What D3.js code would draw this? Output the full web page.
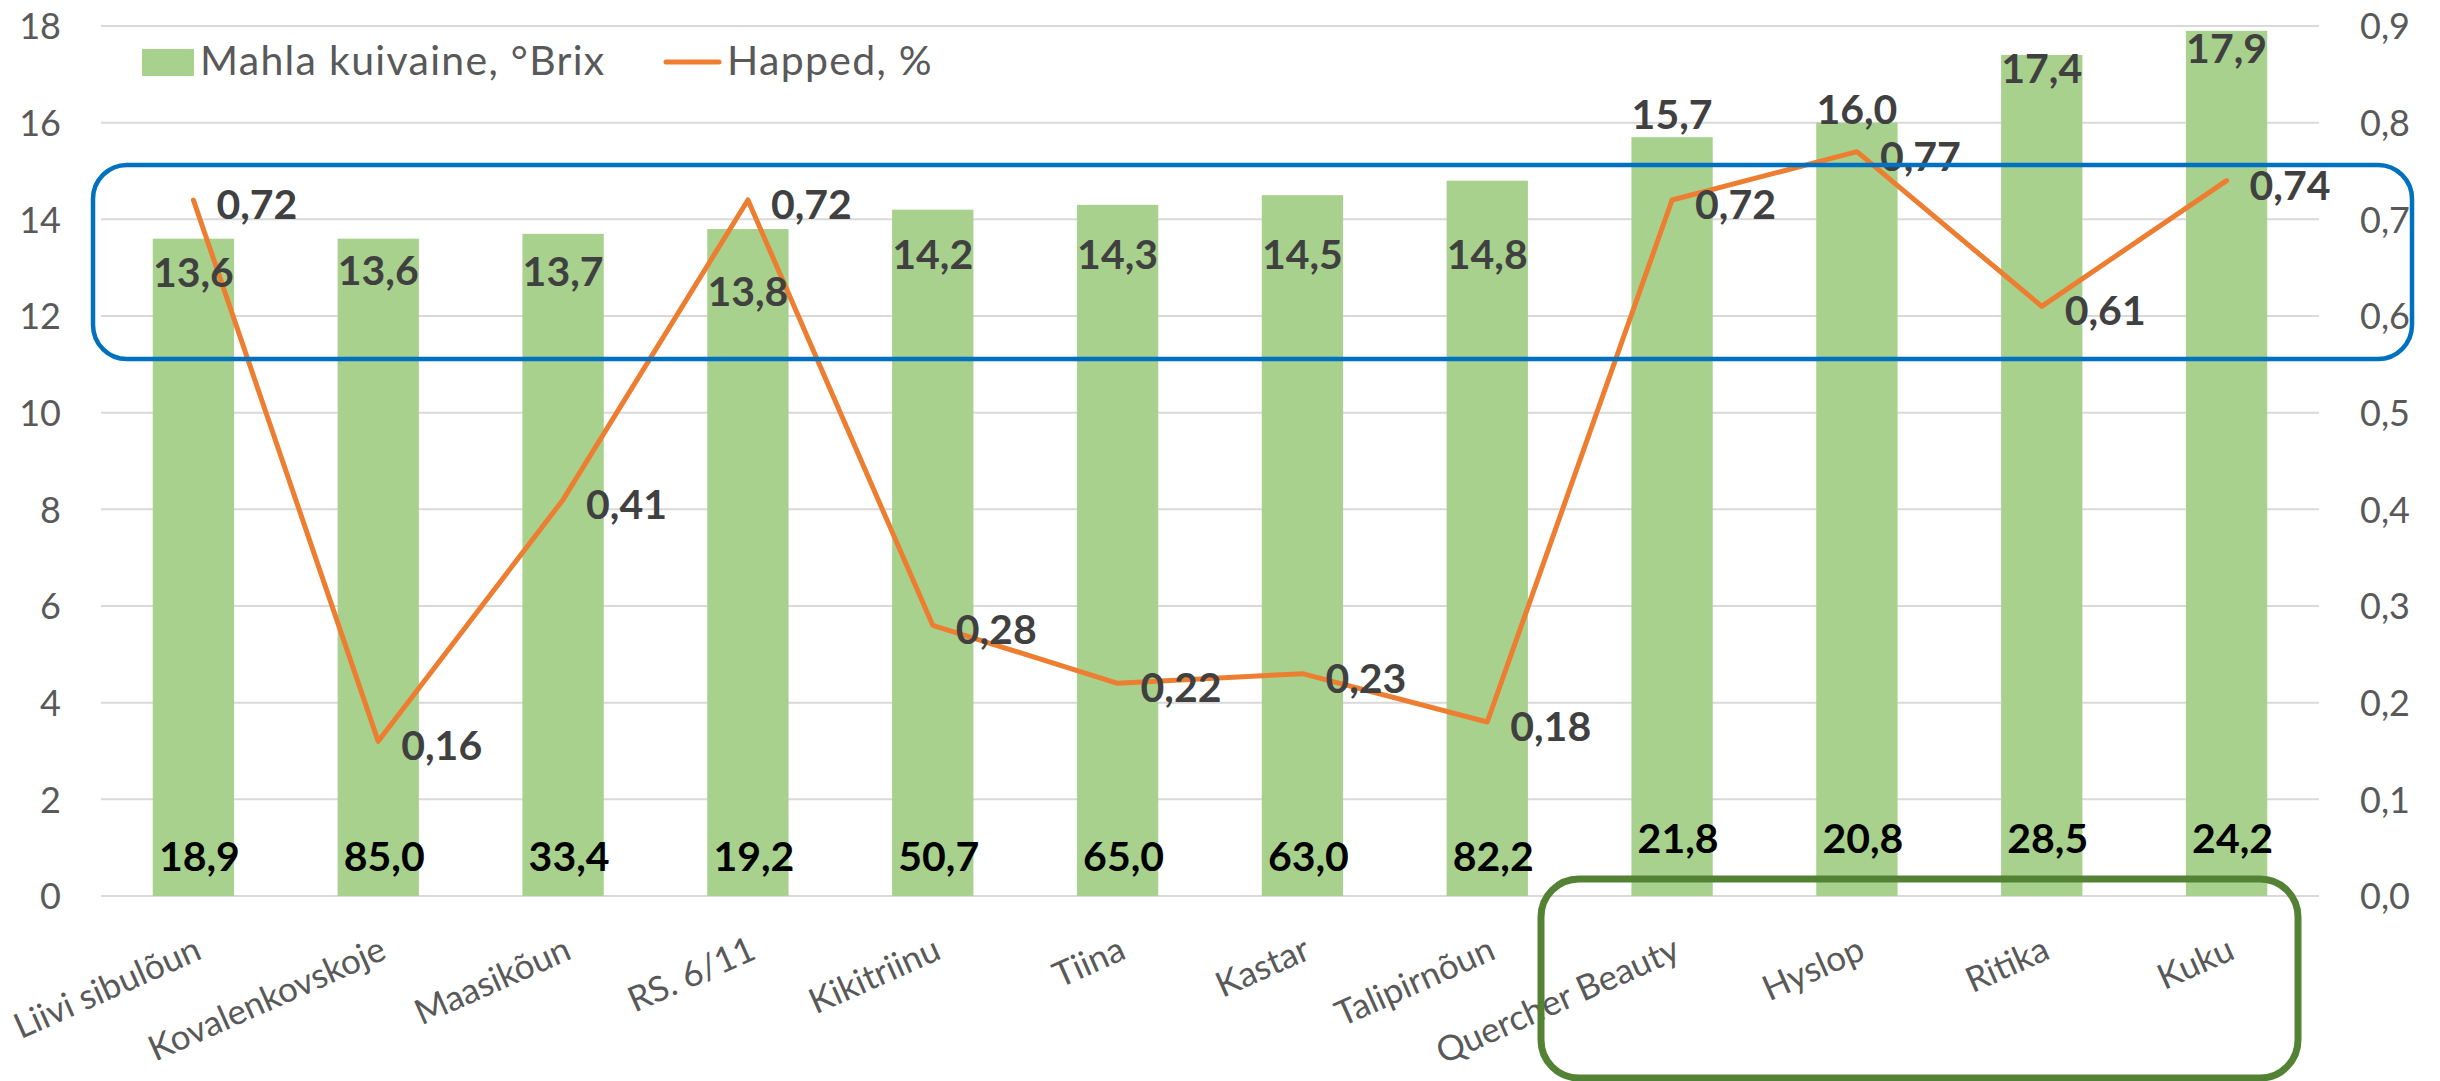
<!DOCTYPE html>
<html><head><meta charset="utf-8">
<script src="https://cdn.jsdelivr.net/npm/d3@7"></script>
<style>
html,body{margin:0;padding:0;background:#fff;}
svg{display:block;font-family:Lato,"Open Sans",sans-serif;}
</style></head>
<body>
<svg id="chart" width="2440" height="1081"></svg>
<script>
// ---- data ----
const categories = ["Liivi sibulõun","Kovalenkovskoje","Maasikõun","RS. 6/11","Kikitriinu","Tiina","Kastar","Talipirnõun","Quercher Beauty","Hyslop","Ritika","Kuku"];
const brix = [13.6,13.6,13.7,13.8,14.2,14.3,14.5,14.8,15.7,16.0,17.4,17.9];
const happed = [0.72,0.16,0.41,0.72,0.28,0.22,0.23,0.18,0.72,0.77,0.61,0.74];
const extraLabels = [18.9,85.0,33.4,19.2,50.7,65.0,63.0,82.2,21.8,20.8,28.5,24.2];
const leftTicks = [0,2,4,6,8,10,12,14,16,18];
const rightTicks = [0,0.1,0.2,0.3,0.4,0.5,0.6,0.7,0.8,0.9];
const seriesNames = ["Mahla kuivaine, °Brix","Happed, %"];

// ---- label placement tweaks (layout, px) ----
const brixLabelOffset = [33,31,37,62,44,49,59,73,-23,-14,13,17];
const extraLabelLift = [0,0,0,0,0,0,0,0,18,18,18,18];

const plot = {left:101, right:2319, top:26, bottom:896};
const C = {bar:"#A9D18E", line:"#ED7D31", grid:"#D9D9D9", axis:"#595959", lab:"#404040", blue:"#0070C0", green:"#548235"};

const loc = d3.formatLocale({decimal:",", thousands:" ", grouping:[3], currency:["","€"]});
const f1 = loc.format(".1f"), f2 = loc.format(".2f");

const svg = d3.select("#chart");

const x = d3.scaleBand().domain(categories).range([plot.left, plot.right]).paddingInner(0.56).paddingOuter(0.28);
const yL = d3.scaleLinear().domain([0,18]).range([plot.bottom, plot.top]);
const yR = d3.scaleLinear().domain([0,0.9]).range([plot.bottom, plot.top]);
const cx = c => x(c) + x.bandwidth()/2;

// gridlines
svg.append("g").selectAll("line").data(leftTicks).join("line")
  .attr("x1", plot.left).attr("x2", plot.right)
  .attr("y1", d => yL(d)).attr("y2", d => yL(d))
  .attr("stroke", C.grid).attr("stroke-width", 2);

// left axis
const gl = svg.append("g").attr("transform", `translate(${plot.left},0)`)
  .call(d3.axisLeft(yL).tickValues(leftTicks).tickSize(0).tickPadding(40).tickFormat(d3.format("d")));
gl.select(".domain").remove();
gl.selectAll("text").attr("font-size", 36).attr("font-family", "Lato").attr("fill", C.axis).attr("dy", "0.36em");

// right axis
const gr = svg.append("g").attr("transform", `translate(${plot.right},0)`)
  .call(d3.axisRight(yR).tickValues(rightTicks).tickSize(0).tickPadding(41).tickFormat(loc.format(".1f")));
gr.select(".domain").remove();
gr.selectAll("text").attr("font-size", 36).attr("font-family", "Lato").attr("fill", C.axis).attr("dy", "0.36em");

// bars
svg.append("g").selectAll("rect").data(brix).join("rect")
  .attr("x", (d,i) => x(categories[i]))
  .attr("width", x.bandwidth())
  .attr("y", d => yL(d))
  .attr("height", d => yL(0) - yL(d))
  .attr("fill", C.bar);

// line
const lineGen = d3.line().x((d,i) => cx(categories[i])).y(d => yR(d));
svg.append("path").datum(happed)
  .attr("d", lineGen).attr("fill", "none")
  .attr("stroke", C.line).attr("stroke-width", 5)
  .attr("stroke-linecap", "round").attr("stroke-linejoin", "round");

// bar value labels
svg.append("g").selectAll("text").data(brix).join("text")
  .attr("x", (d,i) => cx(categories[i]))
  .attr("y", (d,i) => yL(d) + brixLabelOffset[i] + 15)
  .attr("text-anchor", "middle").attr("font-size", 41).attr("font-weight", 700)
  .attr("fill", C.lab).text(d => f1(d));

// line value labels
svg.append("g").selectAll("text").data(happed).join("text")
  .attr("x", (d,i) => cx(categories[i]) + 23)
  .attr("y", d => yR(d) + 19)
  .attr("font-size", 41).attr("font-weight", 700)
  .attr("fill", C.lab).text(d => f2(d));

// extra labels near base
svg.append("g").selectAll("text").data(extraLabels).join("text")
  .attr("x", (d,i) => cx(categories[i]) + 6)
  .attr("y", (d,i) => 871 - extraLabelLift[i])
  .attr("text-anchor", "middle").attr("font-size", 41).attr("font-weight", 700)
  .attr("fill", "#000").text(d => f1(d));

// category labels
svg.append("g").selectAll("text").data(categories).join("text")
  .attr("transform", d => `translate(${cx(d) + 10},958) rotate(-24)`)
  .attr("text-anchor", "end").attr("font-size", 35)
  .attr("fill", C.axis).text(d => d);

// legend
const lg = svg.append("g");
lg.append("rect").attr("x", 142).attr("y", 49).attr("width", 52).attr("height", 27).attr("fill", C.bar);
lg.append("text").attr("x", 200).attr("y", 75).attr("font-size", 41).attr("letter-spacing", 1.3)
  .attr("fill", C.axis).text(seriesNames[0]);
lg.append("line").attr("x1", 666).attr("x2", 719).attr("y1", 62).attr("y2", 62)
  .attr("stroke", C.line).attr("stroke-width", 5).attr("stroke-linecap", "round");
lg.append("text").attr("x", 727).attr("y", 75).attr("font-size", 41).attr("letter-spacing", 1.3)
  .attr("fill", C.axis).text(seriesNames[1]);

// annotation boxes
svg.append("rect").attr("x", 93).attr("y", 165).attr("width", 2319).attr("height", 194)
  .attr("rx", 34).attr("ry", 34).attr("fill", "none").attr("stroke", C.blue).attr("stroke-width", 4.5);
svg.append("rect").attr("x", 1541).attr("y", 879).attr("width", 757).attr("height", 199)
  .attr("rx", 38).attr("ry", 38).attr("fill", "none").attr("stroke", C.green).attr("stroke-width", 7);
</script>
</body></html>
